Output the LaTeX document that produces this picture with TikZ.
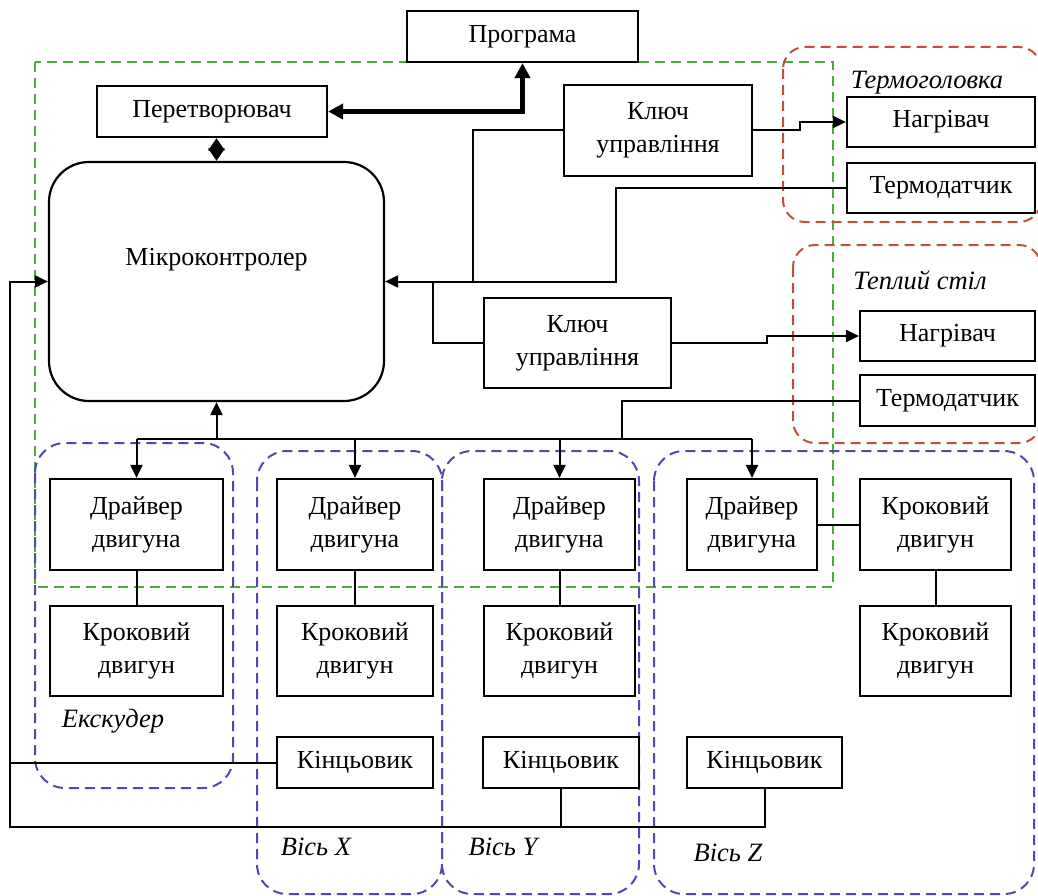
\documentclass[tikz,border=0pt]{standalone}
\usepackage{fontspec}
\setmainfont{Liberation Serif}
\usepackage{xcolor}
\usepackage{tikz}
\usetikzlibrary{positioning, arrows.meta}
\definecolor{ramkagreen}{HTML}{4FA83D}
\definecolor{ramkared}{HTML}{C0503A}
\definecolor{ramkablue}{HTML}{5048B0}

\tikzset{
  blok/.style={draw, fill=white, line width=2.2pt, align=center, inner sep=0pt, minimum height=51pt},
  blokdva/.style={blok, minimum height=91pt},
  lin/.style={line width=2pt},
  strilka/.style={lin, -{Triangle[length=13pt,width=12pt]}},
  grupa/.style={line width=2pt, dash pattern=on 10pt off 6pt},
  pidpys/.style={font=\fontsize{26.5}{32}\selectfont\itshape}
}

\begin{document}
\begin{tikzpicture}[x=1pt, y=-1pt, font=\fontsize{26}{33}\selectfont]
    \useasboundingbox (0,0) rectangle (1038,896);
    % ramky
    \draw[grupa, ramkagreen] (35,62) rectangle (833,587);
    \draw[grupa, ramkared, rounded corners=22pt] (783,47) rectangle (1041,222);
    \draw[grupa, ramkared, rounded corners=22pt] (793,245) rectangle (1041,443);
    \draw[grupa, ramkablue, rounded corners=30pt] (35,443) rectangle (233,788);
    \draw[grupa, ramkablue, rounded corners=30pt] (257,451) rectangle (442,894);
    \draw[grupa, ramkablue, rounded corners=30pt] (442,451) rectangle (639,894);
    \draw[grupa, ramkablue, rounded corners=30pt] (654,451) rectangle (1034,894);

    \node[blok, minimum width=231pt] (prog) at (522.5,36.5) {Програма};
    \node[blok, minimum width=230pt] (pere) at (212,111.5) {Перетворювач};
    \node[blok, minimum width=335pt, minimum height=239pt, rounded corners=40pt] (mk) at (216.5,281.5) {};
    \node (mktxt) at (216.5,260) {Мікроконтролер};

    \node[blokdva, minimum width=188pt] (klyuch1) at (658,130.5) {Ключ\\управління};
    \node[blok, minimum width=188pt, minimum height=50pt] (nagr1) at (941,122) {Нагрівач};
    \node[blok, minimum width=188pt, minimum height=50pt] (termo1) at (941,188) {Термодатчик};
    \node[blokdva, minimum width=187pt, minimum height=90pt] (klyuch2) at (577.5,343) {Ключ\\управління};
    \node[blok, minimum width=175pt, minimum height=50pt] (nagr2) at (947.5,336) {Нагрівач};
    \node[blok, minimum width=175pt] (termo2) at (947.5,400.5) {Термодатчик};

    \node[blokdva, minimum width=173pt] (drv1) at (136.5,524.5) {Драйвер\\двигуна};
    \node[blokdva, minimum width=156pt] (drv2) at (355,524.5) {Драйвер\\двигуна};
    \node[blokdva, minimum width=151pt] (drv3) at (559.5,524.5) {Драйвер\\двигуна};
    \node[blokdva, minimum width=130pt] (drv4) at (752,524.5) {Драйвер\\двигуна};
    \node[blokdva, minimum width=151pt] (krokz1) at (935.5,524.5) {Кроковий\\двигун};

    \node[blokdva, minimum width=173pt, minimum height=90pt] (krok1) at (136.5,651) {Кроковий\\двигун};
    \node[blokdva, minimum width=156pt, minimum height=90pt] (krok2) at (355,651) {Кроковий\\двигун};
    \node[blokdva, minimum width=151pt, minimum height=90pt] (krok3) at (559.5,651) {Кроковий\\двигун};
    \node[blokdva, minimum width=151pt, minimum height=90pt] (krokz2) at (935.5,651) {Кроковий\\двигун};

    \node[blok, minimum width=156pt] (kinx) at (355,762.5) {Кінцьовик};
    \node[blok, minimum width=156pt] (kiny) at (561,762.5) {Кінцьовик};
    \node[blok, minimum width=155pt] (kinz) at (764.5,762.5) {Кінцьовик};

    \node[pidpys] (tgol) at (927,83) {Термоголовка};
    \node[pidpys] (tstil) at (920,280) {Теплий стіл};
    \node[pidpys] (ekskud) at (113,721) {Екскудер};
    \node[pidpys] (visx) at (316,847) {Вісь X};
    \node[pidpys] (visy) at (503,847) {Вісь Y};
    \node[pidpys] (visz) at (728,853) {Вісь Z};

    % zvjazky
    \draw[line width=4.5pt, {Triangle[length=15pt,width=15pt]}-{Triangle[length=15pt,width=15pt]}] (pere.east) -| (prog.south);
    \draw[line width=3.5pt, {Triangle[length=12.5pt,width=16pt]}-{Triangle[length=12.5pt,width=16pt]}] (mk.north |- pere.south) -- (mk.north);

    \draw[strilka] (termo1.west) -| (616,250) |- (mk.east);
    \draw[lin] (klyuch1.west) -| (473,281.5);
    \draw[lin] (433,281.5) |- (klyuch2.west);
    \draw[strilka] (klyuch1.east) -- ++(47,0) |- (nagr1.west);
    \draw[strilka] (klyuch2.east) -- ++(95,0) |- (nagr2.west);

    \draw[strilka] (termo2.west) -| (622,439) -| (mk.south);
    \draw[lin] (drv1.north |- 0,439) -- (drv4.north |- 0,439);
    \foreach \d in {drv1,drv2,drv3,drv4}
      \draw[strilka] (\d.north |- 0,439) -- (\d.north);

    \foreach \d/\k in {drv1/krok1, drv2/krok2, drv3/krok3, drv4/krokz1, krokz1/krokz2}
      \draw[lin] (\d) -- (\k);

    \draw[lin] (kinx.west) -- (10,762.5);
    \draw[lin] (kiny.south) -- (kiny.south |- 0,827);
    \draw[strilka] (kinz.south) |- (10,827) |- (mk.west);
\end{tikzpicture}
\end{document}
